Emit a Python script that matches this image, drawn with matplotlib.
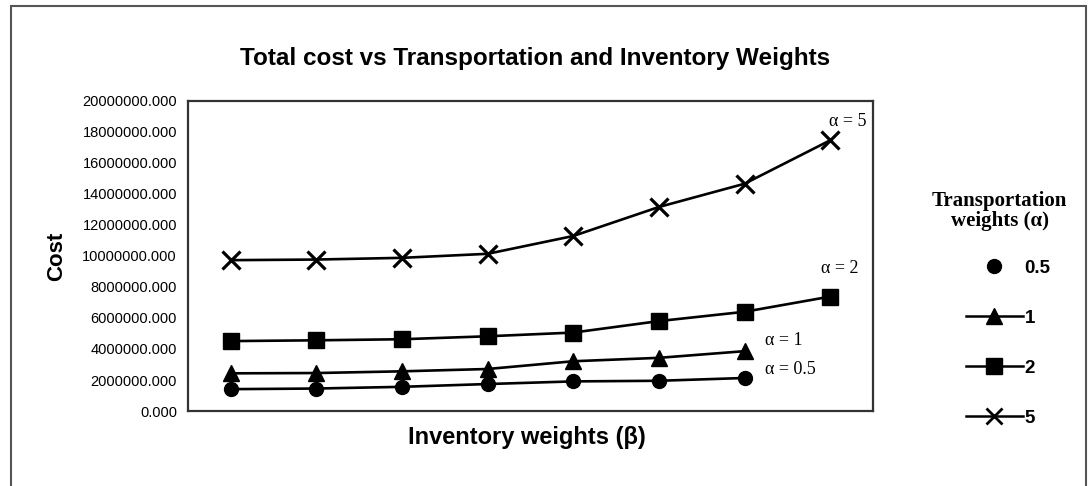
import matplotlib.pyplot as plt
from matplotlib.lines import Line2D
from matplotlib.patches import Rectangle
from matplotlib.ticker import FuncFormatter

# inventory weight steps (beta), plotted as categories
beta_steps = [1, 2, 3, 4, 5, 6, 7, 8]

# total cost for each transportation weight (alpha)
cost_a05 = [1410000, 1450000, 1560000, 1740000, 1910000, 1950000, 2130000]
cost_a1 = [2430000, 2450000, 2560000, 2710000, 3210000, 3430000, 3860000]
cost_a2 = [4510000, 4560000, 4630000, 4820000, 5060000, 5800000, 6400000, 7380000]
cost_a5 = [9730000, 9770000, 9880000, 10140000, 11290000, 13160000, 14660000, 17460000]

alpha_labels = ["0.5", "1", "2", "5"]
y_ticks = [0, 2e6, 4e6, 6e6, 8e6, 10e6, 12e6, 14e6, 16e6, 18e6, 20e6]

sans = "Liberation Sans"
serif = "Liberation Serif"

fig = plt.figure(figsize=(10.9, 4.86), dpi=100)
ax = fig.add_axes([0.1725, 0.1543, 0.6284, 0.638])

lw = 1.9
ax.plot(beta_steps[:len(cost_a05)], cost_a05, color="black", lw=lw,
        marker="o", markersize=10)
ax.plot(beta_steps[:len(cost_a1)], cost_a1, color="black", lw=lw,
        marker="^", markersize=11)
ax.plot(beta_steps[:len(cost_a2)], cost_a2, color="black", lw=lw,
        marker="s", markersize=11)
ax.plot(beta_steps[:len(cost_a5)], cost_a5, color="black", lw=lw,
        marker="x", markersize=13, markeredgewidth=2.3)

ax.set_xlim(0.5, 8.5)
ax.set_ylim(0, 20e6)
ax.set_xticks([])
ax.set_yticks(y_ticks)
ax.yaxis.set_major_formatter(FuncFormatter(lambda v, p: f"{v:.3f}"))
ax.tick_params(axis="y", length=0, pad=8, labelsize=10.5)
for lab in ax.get_yticklabels():
    lab.set_fontfamily(sans)
for s in ax.spines.values():
    s.set_linewidth(1.6)
    s.set_color("#333333")

# curve labels
lab_kw = dict(fontfamily=serif, fontsize=13, color="black")
ax.text(8.21, 18.7e6, "α = 5", ha="center", va="center", **lab_kw)
ax.text(8.11, 9.2e6, "α = 2", ha="center", va="center", **lab_kw)
ax.text(7.24, 4.56e6, "α = 1", ha="left", va="center", **lab_kw)
ax.text(7.24, 2.67e6, "α = 0.5", ha="left", va="center", **lab_kw)

fig.text(0.491, 0.88, "Total cost vs Transportation and Inventory Weights",
         ha="center", va="center", fontfamily=sans, fontweight="bold", fontsize=17.5)
fig.text(0.4835, 0.10, "Inventory weights (β)", ha="center", va="center",
         fontfamily=sans, fontweight="bold", fontsize=17)
fig.text(0.052, 0.473, "Cost", ha="center", va="center", rotation=90,
         fontfamily=sans, fontweight="bold", fontsize=16)

handles = [
    Line2D([], [], color="black", lw=0, marker="o", markersize=10),
    Line2D([], [], color="black", lw=1.8, marker="^", markersize=11),
    Line2D([], [], color="black", lw=1.8, marker="s", markersize=11),
    Line2D([], [], color="black", lw=1.8, marker="x", markersize=11, markeredgewidth=2),
]
leg = fig.legend(handles, alpha_labels, loc="upper left",
                 bbox_to_anchor=(0.871, 0.50), frameon=False,
                 handlelength=3.0, handletextpad=0.1, labelspacing=1.75,
                 prop={"family": sans, "weight": "bold", "size": 13.5})

fig.text(0.917, 0.566, "Transportation\nweights (α)", ha="center",
         va="center", fontfamily=serif, fontweight="bold", fontsize=15,
         linespacing=0.95)

# outer chart frame
fig.patches.append(Rectangle((11 / 1090, -0.1), 1075 / 1090, 1.1 - 6 / 486,
                             transform=fig.transFigure, fill=False,
                             edgecolor="#555555", lw=1.5))

fig.savefig("out.png", dpi=100)
